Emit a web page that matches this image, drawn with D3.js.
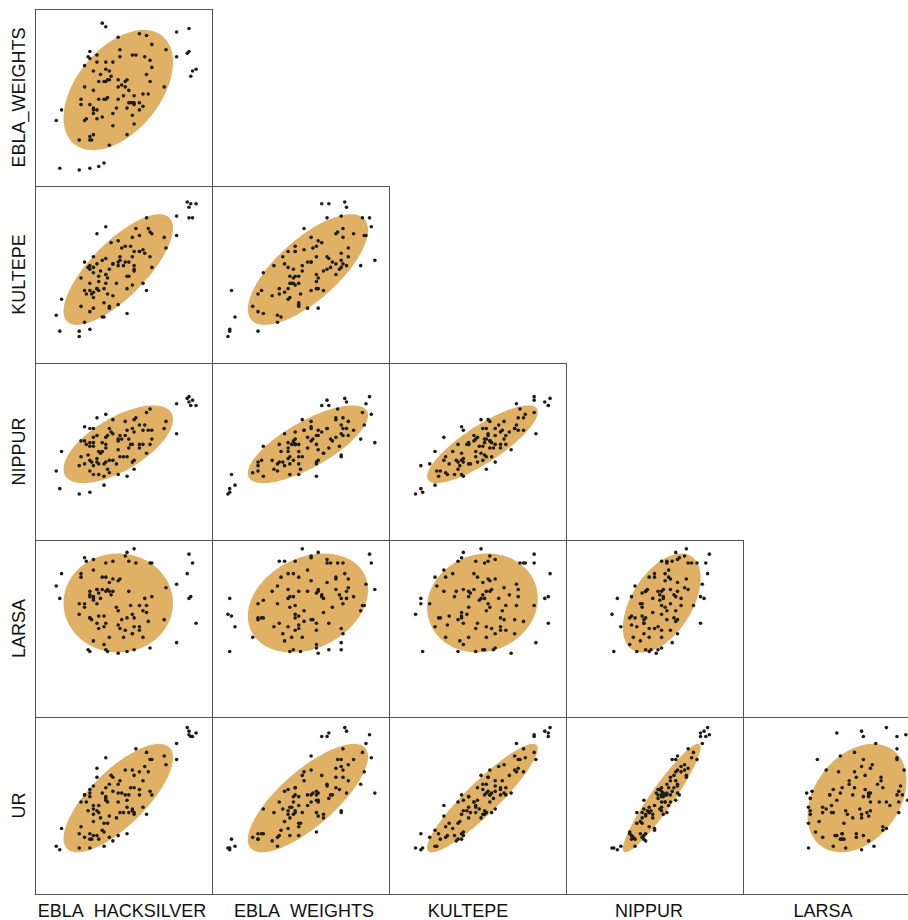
<!DOCTYPE html>
<html>
<head>
<meta charset="utf-8">
<script src="https://cdn.jsdelivr.net/npm/d3@7"></script>
<style>
  html, body { margin: 0; padding: 0; background: #fff; }
  svg { display: block; }
</style>
</head>
<body>
<div id="chart"></div>
<script>
// Scatterplot matrix (lower triangle) with data ellipses

// ---- data: one value per observation and site (index units, 0-100) ----
const ebla_hacksilver = [
  59,26,57,56,31,39,28,87,42,51, 46,30,31,64,42,37,73,53,35,14,
  44,56,87,31,40,52,55,28,54,28, 91,47,33,44,62,41,38,33,74,31,
  40,65,35,48,44,65,15,49,89,39, 56,33,40,52,36,61,31,80,12,43,
  63,35,42,47,88,33,48,36,40,36, 59,33,56,25,53,40,66,25,61,26,
  47,52,63,41,29,59,38,47,50,86, 39,51,33,55,66,32,31,55,80,35
];
const ebla_weights = [
  47,49,74,46,76,13,56,76,60,59, 44,73,26,52,65,63,56,47,74,10,
  70,35,89,28,49,60,74,37,47,68, 66,49,65,34,73,50,92,29,77,10,
  59,71,38,77,41,59,43,57,65,49, 47,44,90,44,59,45,46,73,37,62,
  63,70,23,56,62,54,73,11,70,49, 86,41,51,26,54,66,67,9,52,46,
  60,29,85,60,38,43,39,84,51,75, 59,56,43,47,80,26,72,40,87,43
];
const kultepe = [
  63,32,76,53,55,26,41,88,31,66, 45,54,29,76,53,52,71,49,56,18,
  56,55,82,41,45,42,71,23,66,57, 90,33,60,38,62,39,58,51,65,19,
  50,74,42,60,56,60,36,65,82,34, 63,37,77,49,46,45,45,83,27,68,
  41,73,32,57,90,31,58,41,50,49, 72,40,52,18,57,59,54,15,64,48,
  69,28,82,48,39,63,26,55,55,91, 42,57,54,44,73,39,53,60,72,42
];
const nippur = [
  54,47,69,45,63,31,64,78,45,59, 43,48,39,62,63,49,63,57,59,29,
  68,40,81,45,54,62,63,43,54,56, 76,37,63,45,65,40,55,53,67,27,
  44,74,44,59,60,54,50,57,79,43, 61,37,71,47,43,54,55,60,39,61,
  49,69,38,56,76,58,47,37,58,50, 65,42,68,42,52,52,57,26,62,56,
  51,36,72,59,54,52,50,57,47,80, 36,67,55,54,62,44,53,44,77,46
];
const larsa = [
  49,79,87,38,71,51,90,67,71,49, 62,38,56,54,76,67,55,88,64,67,
  78,51,92,56,71,93,47,64,63,62, 53,52,89,71,67,37,72,66,73,37,
  53,87,53,78,88,39,81,55,87,57, 56,68,87,37,70,45,68,42,74,69,
  59,72,45,77,68,83,50,57,79,50, 63,43,95,64,71,38,87,58,60,81,
  36,56,63,72,88,51,79,60,45,81, 41,91,67,58,68,55,69,47,75,72
];
const ur = [
  56,38,82,45,57,27,56,92,44,56, 43,47,31,69,62,43,78,46,66,25,
  66,46,90,34,55,53,70,32,60,56, 91,33,61,30,72,40,57,48,73,26,
  53,76,33,64,58,58,37,57,89,40, 60,33,77,49,46,49,55,76,27,67,
  45,71,32,52,89,50,46,31,60,50, 69,41,67,34,56,54,56,26,64,52,
  57,34,80,52,52,59,36,62,46,94, 35,70,45,47,76,31,59,48,85,47
];

const variables = ['EBLA_HACKSILVER', 'EBLA_WEIGHTS', 'KULTEPE', 'NIPPUR', 'LARSA', 'UR'];
const series = [ebla_hacksilver, ebla_weights, kultepe, nippur, larsa, ur];
const valueDomain = [0, 100];
const ellipseLevel = 0.8;   // share of a normal cloud inside the ellipse

// ---- layout ----
const width = 908, height = 920;
const marginLeft = 35, marginTop = 9, cell = 177;
const labelCenters = [122, 304, 468, 649, 823];   // bottom labels, measured

const svg = d3.select('#chart').append('svg')
  .attr('width', width)
  .attr('height', height)
  .style('font-family', '"Liberation Sans", Arial, sans-serif');

const x = d3.scaleLinear().domain(valueDomain).range([0, cell]);
const y = d3.scaleLinear().domain(valueDomain).range([cell, 0]);

const k = Math.sqrt(-2 * Math.log(1 - ellipseLevel));

function ellipsePoints(xs, ys) {
  const mx = d3.mean(xs), my = d3.mean(ys);
  const n = xs.length;
  let sxx = 0, syy = 0, sxy = 0;
  for (let i = 0; i < n; i++) {
    const dx = xs[i] - mx, dy = ys[i] - my;
    sxx += dx * dx; syy += dy * dy; sxy += dx * dy;
  }
  sxx /= n - 1; syy /= n - 1; sxy /= n - 1;
  // cholesky of the 2x2 covariance
  const a = Math.sqrt(sxx);
  const b = sxy / a;
  const c = Math.sqrt(syy - b * b);
  return d3.range(0, 2 * Math.PI, Math.PI / 90).map(t => [
    mx + k * a * Math.cos(t),
    my + k * (b * Math.cos(t) + c * Math.sin(t))
  ]);
}

const ellipseLine = d3.line()
  .x(d => x(d[0]))
  .y(d => y(d[1]))
  .curve(d3.curveLinearClosed);

for (let row = 1; row < variables.length; row++) {
  for (let col = 0; col < row; col++) {
    const xs = series[col], ys = series[row];
    const g = svg.append('g')
      .attr('transform', `translate(${marginLeft + col * cell}, ${marginTop + (row - 1) * cell})`);

    g.append('rect')
      .attr('x', 0.5).attr('y', 0.5)
      .attr('width', cell).attr('height', cell)
      .attr('fill', '#fff')
      .attr('stroke', '#555')
      .attr('stroke-width', 1);

    g.append('path')
      .attr('d', ellipseLine(ellipsePoints(xs, ys)))
      .attr('fill', '#e0b065')
      .attr('stroke', 'none');

    g.selectAll('circle')
      .data(d3.range(xs.length))
      .enter()
      .append('circle')
      .attr('cx', i => x(xs[i]))
      .attr('cy', i => y(ys[i]))
      .attr('r', 1.8)
      .attr('fill', '#1c1c1c');
  }
}

// row labels (left, rotated)
variables.slice(1).forEach((name, i) => {
  svg.append('text')
    .attr('transform', `translate(25, ${marginTop + i * cell + cell / 2}) rotate(-90)`)
    .attr('text-anchor', 'middle')
    .attr('font-size', '18px')
    .attr('fill', '#111')
    .text(name);
});

// column labels (bottom)
variables.slice(0, 5).forEach((name, i) => {
  svg.append('text')
    .attr('x', labelCenters[i])
    .attr('y', 917)
    .attr('text-anchor', 'middle')
    .attr('font-size', '18px')
    .attr('fill', '#111')
    .text(name);
});
</script>
</body>
</html>
